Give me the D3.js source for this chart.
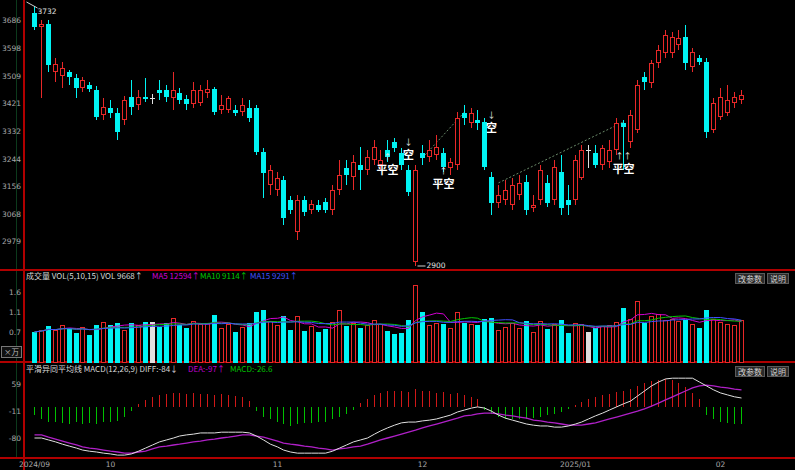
<!DOCTYPE html>
<html><head><meta charset="utf-8">
<script src="https://cdn.jsdelivr.net/npm/d3@7"></script>
<style>body{margin:0;background:#000;overflow:hidden}svg{display:block}</style>
</head><body><svg id="c" width="795" height="470"></svg>
<script>
// ---------- data ----------
const opens=[3710,3665,3674,3521,3508,3521,3502,3470,3479,3463,3383,3406,3390,3367,3441,3415,3441,3438,3463,3463,3438,3454,3434,3418,3422,3454,3466,3399,3399,3399,3393,3406,3406,3265,3159,3143,3175,3111,3009,3111,3079,3095,3105,3079,3143,3214,3185,3223,3207,3239,3223,3271,3297,3262,3207,2913,3262,3249,3255,3262,3214,3223,3390,3358,3367,3361,3185,3102,3111,3095,3127,3169,3086,3111,3166,3111,3201,3111,3111,3182,3271,3262,3223,3233,3271,3358,3297,3335,3505,3486,3550,3582,3582,3607,3633,3537,3566,3553,3335,3377,3390,3422,3431];
const closes=[3665,3674,3543,3546,3534,3505,3470,3495,3466,3377,3409,3390,3329,3431,3409,3441,3434,3438,3454,3441,3463,3431,3418,3463,3463,3466,3393,3415,3438,3390,3415,3374,3265,3198,3207,3182,3054,3079,3111,3073,3098,3079,3079,3143,3191,3191,3233,3207,3249,3281,3239,3249,3278,3223,3137,3207,3246,3271,3281,3217,3233,3374,3374,3390,3358,3217,3102,3127,3143,3159,3166,3079,3095,3207,3102,3217,3086,3095,3239,3271,3271,3223,3278,3271,3358,3345,3383,3479,3489,3550,3591,3639,3633,3630,3550,3585,3553,3329,3422,3441,3431,3441,3447];
const highs=[3732,3687,3687,3566,3553,3527,3514,3505,3489,3476,3438,3431,3406,3444,3495,3463,3502,3450,3495,3479,3521,3470,3447,3489,3479,3495,3473,3447,3444,3415,3438,3431,3415,3278,3223,3201,3188,3124,3127,3124,3111,3111,3118,3159,3239,3239,3255,3281,3271,3303,3271,3303,3310,3278,3223,3223,3287,3303,3319,3278,3246,3393,3415,3406,3399,3374,3201,3159,3175,3182,3191,3191,3127,3223,3191,3239,3255,3159,3255,3287,3287,3287,3287,3303,3374,3367,3399,3495,3521,3559,3607,3655,3649,3655,3671,3598,3575,3566,3438,3470,3479,3457,3463];
const lows=[3655,3438,3521,3489,3470,3479,3438,3457,3457,3367,3367,3374,3303,3351,3383,3399,3425,3418,3431,3425,3399,3418,3399,3406,3412,3438,3383,3386,3390,3380,3380,3361,3255,3118,3127,3124,3031,3066,2983,3060,3066,3073,3070,3063,3127,3159,3143,3143,3191,3223,3207,3233,3265,3207,3124,2900,3223,3233,3239,3201,3191,3207,3351,3342,3335,3207,3063,3086,3095,3079,3111,3063,3073,3095,3089,3095,3063,3063,3095,3175,3214,3214,3207,3214,3255,3207,3278,3326,3463,3470,3534,3566,3566,3591,3527,3521,3543,3310,3326,3367,3380,3406,3418];
const volumes=[7000,7400,8300,7400,8500,7900,6800,8100,6300,8600,9200,8500,9000,7400,9000,8500,9200,9200,8100,9000,10100,8500,7800,9500,8700,9000,10800,8000,8800,7000,8200,9000,11500,11900,9500,8500,10500,7500,10500,7200,8300,7000,7600,9200,11900,8300,9000,7800,8500,9600,8700,7300,6500,6800,9700,17500,11500,8500,9000,8800,8000,11500,9000,8700,8500,9900,10100,7500,8200,9000,8000,9400,7000,9500,7600,8800,9600,6800,9000,8800,7000,7800,8300,8600,9300,12400,10000,14000,9000,10500,11000,9800,10000,9500,9800,8800,7800,11900,10000,9200,8900,8600,9668];
const macdHist=[-20,-30,-38,-40,-42,-44,-40,-45,-42,-44,-40,-38,-35,-25,-10,8,18,25,30,33,36,36,34,36,34,32,30,33,30,28,25,15,-10,-25,-32,-38,-45,-48,-45,-42,-42,-40,-38,-30,-25,-18,-8,10,20,30,36,40,42,40,38,45,42,40,36,38,34,36,30,25,20,-8,-18,-25,-30,-32,-30,-32,-28,-25,-22,-18,-12,-5,5,12,20,25,30,34,38,40,45,55,62,68,70,72,70,62,50,35,20,-20,-32,-40,-42,-44,-45];
const diffLine=[-80,-80,-85,-90,-96,-101,-106,-111,-114,-116,-119,-121,-124,-124,-121,-114,-106,-98,-90,-85,-80,-75,-72,-70,-67,-67,-67,-65,-65,-65,-65,-67,-75,-85,-96,-103,-111,-116,-119,-119,-119,-119,-119,-114,-106,-98,-90,-85,-80,-70,-62,-54,-47,-41,-39,-39,-36,-34,-31,-26,-21,-13,-8,-3,0,-3,-11,-21,-29,-34,-39,-44,-47,-49,-49,-52,-52,-49,-44,-39,-31,-23,-16,-8,0,8,15,28,41,54,64,72,74,74,74,74,64,54,44,36,31,26,23];
const deaLine=[-72,-72,-78,-83,-88,-93,-98,-103,-106,-108,-111,-114,-116,-119,-119,-116,-114,-108,-103,-101,-98,-96,-93,-90,-88,-85,-83,-80,-78,-75,-72,-72,-75,-78,-83,-88,-93,-96,-98,-101,-103,-106,-108,-111,-108,-106,-103,-101,-96,-90,-85,-80,-75,-70,-65,-60,-54,-49,-44,-39,-34,-29,-23,-21,-18,-16,-16,-18,-21,-23,-26,-29,-34,-36,-39,-41,-44,-47,-47,-47,-44,-41,-36,-31,-26,-21,-16,-11,-5,2,10,18,26,33,41,49,54,56,54,51,49,46,44];
const priceTicks=[3686,3598,3509,3421,3332,3244,3156,3068,2979];
const volTicks=[16000,11500,7000];
const volTickLabels=["1.6","1.1","0.7"];
const macdTicks=[59,-11,-80];
const monthIdx=[0,11,35,56,78,99];
const monthText=["2024/09","10","11","12","2025/01","02"];
const signalIdx=[51,54,59,66,85];
const signalText=["平空","空","平空","空","平空"];
const signalPrice=[3209,3257,3165,3345,3213];
const signalArrow=["↑","↓","↑","↓","↑↑"];
const trendIdx=[[56,62],[67,85]];
const trendPrice=[[3246,3393],[3166,3361]];

// ---------- layout ----------
const N=opens.length;
const svg=d3.select("#c");
const FONT="'DejaVu Sans','Noto Sans CJK SC',sans-serif";
const CJK="'Noto Sans CJK SC','DejaVu Sans',sans-serif";
const x=d3.scaleBand().domain(d3.range(N)).range([30.5,744.3]);
const cx=i=>Math.round(x(i)+x.bandwidth()/2)+0.5;
const BW=5;
const y=d3.scaleLinear().domain([2900,3732]).range([266,6]);
const yv=d3.scaleLinear().domain([0,16000]).range([363,292]);
const ym=d3.scaleLinear().domain([-80,59]).range([438,384]);
const RED="#e82828", CYAN="#00f4f4", GRID="#b00000";

svg.append("rect").attr("width",795).attr("height",470).attr("fill","#000");

// frame lines
svg.append("line").attr("x1",16.5).attr("x2",16.5).attr("y1",0).attr("y2",458).attr("stroke","#0c3a1c").attr("stroke-width",1);
svg.append("line").attr("x1",24).attr("x2",24).attr("y1",0).attr("y2",470).attr("stroke",GRID).attr("stroke-width",2);
[270,362,458].forEach(v=>svg.append("line").attr("x1",0).attr("x2",795).attr("y1",v).attr("y2",v).attr("stroke",GRID).attr("stroke-width",2));

// price axis labels
svg.append("g").selectAll("text").data(priceTicks).join("text")
  .attr("x",21).attr("y",d=>y(d)+3).attr("text-anchor","end")
  .attr("font-family",FONT).attr("font-size",7.5).attr("fill","#a8a8a8").text(d=>d);

// trend lines
trendIdx.forEach((t,k)=>{
  svg.append("line").attr("x1",cx(t[0])).attr("y1",y(trendPrice[k][0])).attr("x2",cx(t[1])).attr("y2",y(trendPrice[k][1]))
   .attr("stroke","#6a8a6a").attr("stroke-width",1).attr("stroke-dasharray","2,2");
});

// candles
const cg=svg.append("g").attr("shape-rendering","crispEdges");
d3.range(N).forEach(i=>{
  const o=opens[i],c=closes[i],h=highs[i],l=lows[i];
  const up=c>o, flat=c===o;
  const col=flat?"#e0e0e0":(up?RED:CYAN);
  const X=cx(i);
  cg.append("line").attr("x1",X).attr("x2",X).attr("y1",y(h)).attr("y2",y(l)).attr("stroke",col);
  if(flat){
    cg.append("line").attr("x1",X-2.5).attr("x2",X+2.5).attr("y1",Math.round(y(o))+0.5).attr("y2",Math.round(y(o))+0.5).attr("stroke",col);
  } else {
    const t=Math.round(y(Math.max(o,c))), b=Math.round(y(Math.min(o,c)));
    cg.append("rect").attr("x",X-BW/2).attr("y",t+0.5).attr("width",BW-1).attr("height",Math.max(1,b-t-1))
      .attr("fill",up?"#000":CYAN).attr("stroke",col).attr("stroke-width",1);
  }
});

// extreme annotations
const iMax=highs.indexOf(d3.max(highs)), iMin=lows.indexOf(d3.min(lows));
svg.append("line").attr("x1",cx(iMax)-8).attr("y1",y(highs[iMax])-4).attr("x2",cx(iMax)+3).attr("y2",y(highs[iMax])+2).attr("stroke","#d0d0d0");
svg.append("text").attr("x",cx(iMax)+3).attr("y",y(highs[iMax])+8).attr("font-family",FONT).attr("font-size",7.5).attr("fill","#e0e0e0").text(d3.max(highs));
svg.append("line").attr("x1",cx(iMin)+2).attr("y1",y(lows[iMin])).attr("x2",cx(iMin)+10).attr("y2",y(lows[iMin])).attr("stroke","#d0d0d0");
svg.append("text").attr("x",cx(iMin)+11).attr("y",y(lows[iMin])+2).attr("font-family",FONT).attr("font-size",7.5).attr("fill","#e0e0e0").text(d3.min(lows));

// signals
signalIdx.forEach((si,k)=>{
  const X=cx(si), Y=y(signalPrice[k]);
  svg.append("text").attr("x",X).attr("y",Y-9).attr("text-anchor","middle").attr("font-family",CJK).attr("font-size",8).attr("fill","#e8e8e8").text(signalArrow[k]);
  svg.append("text").attr("x",X).attr("y",Y+5).attr("text-anchor","middle").attr("font-family",CJK).attr("font-size",11).attr("font-weight","bold").attr("fill","#ffffff").text(signalText[k]);
});

// volume header
const vh=svg.append("text").attr("y",279).attr("font-family",CJK).attr("font-size",8);
vh.append("tspan").attr("x",26).attr("fill","#d8d8d8").text("成交量 VOL(5,10,15) VOL 9668↑");
vh.append("tspan").attr("x",152).attr("fill","#d000d0").text("MA5 12594↑");
vh.append("tspan").attr("x",200).attr("fill","#00c800").text("MA10 9114↑");
vh.append("tspan").attr("x",250).attr("fill","#4050ff").text("MA15 9291↑");

// volume axis
svg.append("g").selectAll("text").data(volTicks).join("text")
  .attr("x",21).attr("y",d=>yv(d)+3).attr("text-anchor","end").attr("font-family",FONT).attr("font-size",7.5).attr("fill","#a8a8a8")
  .text((d,k)=>volTickLabels[k]);
svg.append("rect").attr("x",1.5).attr("y",346.5).attr("width",20).attr("height",11).attr("fill","#101010").attr("stroke","#777");
svg.append("text").attr("x",11.5).attr("y",355).attr("text-anchor","middle").attr("font-family",CJK).attr("font-size",7.5).attr("fill","#bbb").text("×万");

// volume bars
const vg=svg.append("g").attr("shape-rendering","crispEdges");
d3.range(N).forEach(i=>{
  const up=closes[i]>opens[i], flat=closes[i]===opens[i];
  const col=flat?"#e0e0e0":(up?RED:CYAN);
  const X=cx(i), t=Math.round(yv(volumes[i])), b=Math.round(yv(0));
  vg.append("rect").attr("x",X-BW/2).attr("y",t+0.5).attr("width",BW-1).attr("height",b-t-1)
    .attr("fill",up?"#000":col).attr("stroke",col);
});
// volume MAs
const ma=n=>volumes.map((v,i)=>d3.mean(volumes.slice(Math.max(0,i-n+1),i+1)));
[[5,"#d000d0"],[10,"#00c800"],[15,"#4050ff"]].forEach(([n,col])=>{
  svg.append("path").datum(ma(n)).attr("fill","none").attr("stroke",col).attr("stroke-width",1)
    .attr("d",d3.line().x((d,i)=>cx(i)).y(d=>yv(d)));
});

// buttons
function btn(x0,y0,w,t){
  svg.append("rect").attr("x",x0+0.5).attr("y",y0+0.5).attr("width",w).attr("height",10).attr("fill","#2a2a2a").attr("stroke","#5a5a5a");
  svg.append("text").attr("x",x0+w/2+0.5).attr("y",y0+8.5).attr("text-anchor","middle").attr("font-family",CJK).attr("font-size",8).attr("fill","#d0d0d0").text(t);
}
btn(735,273,29,"改参数"); btn(767,273,21,"说明");
btn(735,366,29,"改参数"); btn(767,366,21,"说明");

// macd header
const mh=svg.append("text").attr("y",372).attr("font-family",CJK).attr("font-size",8);
mh.append("tspan").attr("x",26).attr("fill","#d8d8d8").text("平滑异同平均线 MACD(12,26,9) DIFF:-84↓");
mh.append("tspan").attr("x",188).attr("fill","#c000d0").text("DEA:-97↑");
mh.append("tspan").attr("x",230).attr("fill","#00c800").text("MACD:-26.6");

// macd axis
svg.append("g").selectAll("text").data(macdTicks).join("text")
  .attr("x",21).attr("y",d=>ym(d)+3).attr("text-anchor","end").attr("font-family",FONT).attr("font-size",7.5).attr("fill","#a8a8a8").text(d=>d);

// macd bars
const mg=svg.append("g").attr("shape-rendering","crispEdges");
d3.range(N).forEach(i=>{
  const v=macdHist[i];
  mg.append("line").attr("x1",cx(i)).attr("x2",cx(i)).attr("y1",ym(0)).attr("y2",ym(v))
    .attr("stroke",v>=0?"#d01818":"#00c000").attr("stroke-width",1);
});
svg.append("path").datum(deaLine).attr("fill","none").attr("stroke","#b020c8").attr("stroke-width",1.3)
  .attr("d",d3.line().x((d,i)=>cx(i)).y(d=>ym(d)));
svg.append("path").datum(diffLine).attr("fill","none").attr("stroke","#e0e0e0").attr("stroke-width",1)
  .attr("d",d3.line().x((d,i)=>cx(i)).y(d=>ym(d)));

// date axis
monthIdx.forEach((mi,k)=>{
  svg.append("text").attr("x",cx(mi)).attr("y",467).attr("text-anchor","middle").attr("font-family",FONT).attr("font-size",7.5).attr("fill","#a8a8a8").text(monthText[k]);
});
</script></body></html>
